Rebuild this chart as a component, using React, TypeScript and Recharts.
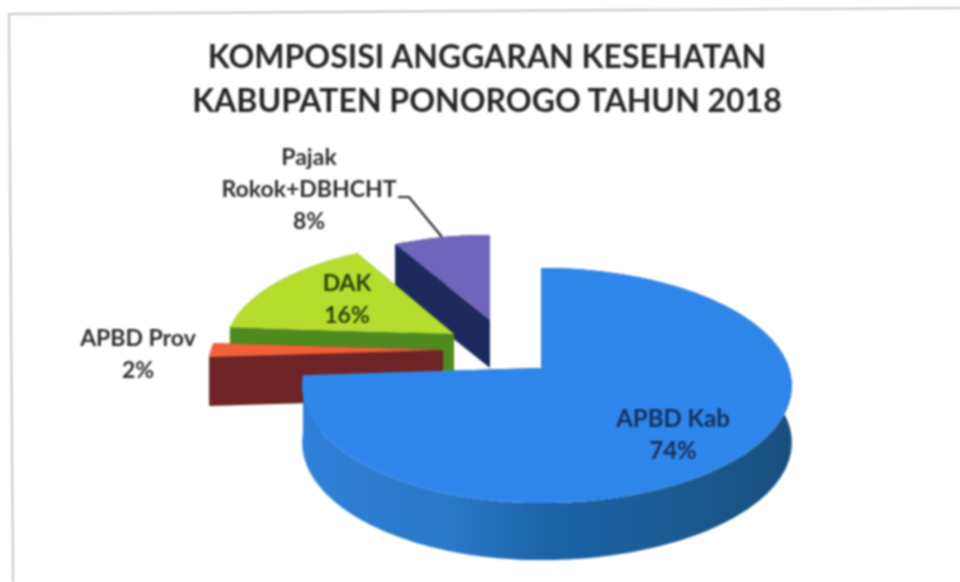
import { PieChart, Pie } from "recharts"

// clockwise from 12 o'clock
const categories = ["APBD Kab", "APBD Prov", "DAK", "Pajak Rokok+DBHCHT"]
const percents = [74, 2, 16, 8]
const titleLines = ["KOMPOSISI ANGGARAN KESEHATAN", "KABUPATEN PONOROGO TAHUN 2018"]

// painted back to front, so the table runs the other way round and the pie goes counter clockwise
const rows = categories.map((name, i) => ({ name, value: percents[i] })).reverse()

const TILT = 115 / 248
const PERSPECTIVE = 0.149
const FONT = "Lato, Carlito, sans-serif"
const TEXT = "#2e2e2e"

type Look = {
  dx: number
  dy: number
  scale: number
  leftScale: number
  depth: number
  top: string
  rim: string
  wall: string
  lines: string[]
  labelX: number
  labelY: number
  labelSize: number
  labelColor: string
}

const looks: Record<string, Look> = {
  "APBD Kab": { dx: 0, dy: 0, scale: 1, leftScale: 0.952, depth: 57, top: "#2f86ea", rim: "url(#kabRim)", wall: "#1c5b93", lines: ["APBD Kab"], labelX: 673, labelY: 427, labelSize: 24, labelColor: "#13305e" },
  "APBD Prov": { dx: -98, dy: -18, scale: 0.955, leftScale: 0.98, depth: 49, top: "#f2603a", rim: "#6e2426", wall: "#6e2426", lines: ["APBD Prov"], labelX: 138, labelY: 346, labelSize: 23, labelColor: TEXT },
  DAK: { dx: -87, dy: -34, scale: 0.905, leftScale: 1.01, depth: 37, top: "#b6dc2e", rim: "#4f8a1e", wall: "#4f8a1e", lines: ["DAK"], labelX: 347, labelY: 291, labelSize: 23, labelColor: "#27400c" },
  "Pajak Rokok+DBHCHT": { dx: -51, dy: -48, scale: 0.85, leftScale: 1.055, depth: 48, top: "#6f65ba", rim: "#1e2a5e", wall: "#1e2a5e", lines: ["Pajak", "Rokok+DBHCHT"], labelX: 309, labelY: 165, labelSize: 23, labelColor: TEXT },
}

function project(ax: number, ay: number, rx: number, angle: number, leftScale: number) {
  const t = ((angle - 90) * Math.PI) / 180
  const s = 1 / (1 + PERSPECTIVE * Math.cos(t))
  const side = Math.sin(t) > 0 ? leftScale : 1
  return { x: ax - rx * side * Math.sin(t) * s, y: ay - rx * TILT * Math.cos(t) * s }
}

function poly(pts: { x: number; y: number }[]) {
  return pts.map((p) => `${p.x.toFixed(1)},${p.y.toFixed(1)}`).join(" ")
}

function Slice3D(props: any) {
  const look = looks[props.name ?? props.payload?.name]
  const ax = props.cx + look.dx
  const ay = props.cy + look.dy
  const rx = props.outerRadius * look.scale
  const arc: { x: number; y: number }[] = []
  for (let a = props.startAngle; a < props.endAngle; a += 1) arc.push(project(ax, ay, rx, a, look.leftScale))
  arc.push(project(ax, ay, rx, props.endAngle, look.leftScale))
  const down = (p: { x: number; y: number }) => ({ x: p.x, y: p.y + look.depth })
  const apex = { x: ax, y: ay }
  const first = arc[0]
  const last = arc[arc.length - 1]
  return (
    <g>
      <polygon points={poly([apex, first, down(first), down(apex)])} fill={look.wall} />
      <polygon points={poly([apex, last, down(last), down(apex)])} fill={look.wall} />
      <polygon points={poly([...arc, ...arc.map(down).reverse()])} fill={look.rim} />
      <polygon points={poly([apex, ...arc])} fill={look.top} />
    </g>
  )
}

function SliceLabel(props: any) {
  const look = looks[props.name ?? props.payload?.name]
  const lines = [...look.lines, `${props.value}%`]
  return (
    <g>
      {lines.map((line, i) => (
        <text
          key={line}
          x={look.labelX}
          y={look.labelY + i * 32}
          textAnchor="middle"
          fontFamily={FONT}
          fontWeight={700}
          fontSize={look.labelSize}
          fill={look.labelColor}
        >
          {line}
        </text>
      ))}
      {look.lines.length > 1 && (
        <polyline points="398,197 409,197 442,237" fill="none" stroke="#2a2a2a" strokeWidth={2.2} />
      )}
    </g>
  )
}

export default function App() {
  return (
    <div style={{ position: "absolute", left: 0, top: 0, width: 960, height: 582, filter: "blur(0.8px)" }}>
      <PieChart width={960} height={582} margin={{ top: 0, right: 0, bottom: 0, left: 0 }}>
        <defs>
          <linearGradient id="kabRim" gradientUnits="userSpaceOnUse" x1="305" y1="0" x2="792" y2="0">
            <stop offset="0" stopColor="#2f80d8" />
            <stop offset="0.3" stopColor="#2a78c8" />
            <stop offset="0.5" stopColor="#1a63a8" />
            <stop offset="0.75" stopColor="#1c5b93" />
            <stop offset="1" stopColor="#174f7e" />
          </linearGradient>
        </defs>
        <line x1={9} y1={14} x2={960} y2={8} stroke="#b4b4b4" strokeWidth={1.5} />
        <line x1={9} y1={14} x2={13} y2={582} stroke="#b4b4b4" strokeWidth={1.5} />
        <text x={487} y={68} textAnchor="middle" fontFamily={FONT} fontWeight={700} fontSize={32} fill="#262626">
          {titleLines[0]}
        </text>
        <text x={487} y={112} textAnchor="middle" fontFamily={FONT} fontWeight={700} fontSize={32} fill="#262626">
          {titleLines[1]}
        </text>
        <Pie
          data={rows}
          dataKey="value"
          nameKey="name"
          cx={541}
          cy={368}
          outerRadius={248}
          startAngle={90}
          endAngle={450}
          stroke="none"
          shape={Slice3D}
          label={SliceLabel}
          labelLine={false}
          isAnimationActive={false}
        />
      </PieChart>
    </div>
  )
}
